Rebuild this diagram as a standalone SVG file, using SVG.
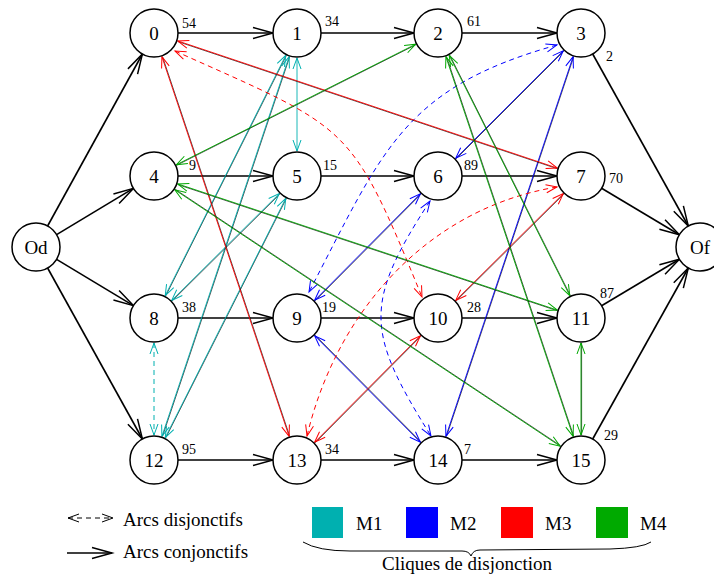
<svg xmlns="http://www.w3.org/2000/svg" width="714" height="578" viewBox="0 0 714 578">
<style>
  text { font-family: "Liberation Serif", "Times New Roman", serif; fill: #000; }
  .lbl { font-size: 19px; text-anchor: middle; }
  .w { font-size: 14px; }
  .leg { font-size: 19px; }
  circle.n { fill: #fff; stroke: #000; stroke-width: 1.5; }
  .cj { stroke: #000; stroke-width: 1.6; fill: none; marker-end: url(#ac); }
  .k { stroke: #000; stroke-width: 0.7; fill: none; }
  .c { stroke-width: 0.9; fill: none; }
  .d { stroke-width: 1; fill: none; stroke-dasharray: 5 4; }
  .m1 .c, .m1 .d { stroke: #00b0b0; marker-start: url(#a1); marker-end: url(#a1); }
  .m2 .c, .m2 .d { stroke: #0000ff; marker-start: url(#a2); marker-end: url(#a2); }
  .m3 .c, .m3 .d { stroke: #ff0000; marker-start: url(#a3); marker-end: url(#a3); }
  .m4 .c, .m4 .d { stroke: #00a800; marker-start: url(#a4); marker-end: url(#a4); }
</style>
<defs>
  <marker id="ac" markerUnits="userSpaceOnUse" markerWidth="24" markerHeight="14" viewBox="0 0 24 14" refX="21" refY="7" orient="auto">
    <path d="M1,1.5 L21,7 L1,12.5" fill="none" stroke="#000" stroke-width="1.5"/>
  </marker>
  <marker id="a1" markerUnits="userSpaceOnUse" markerWidth="14" markerHeight="10" viewBox="0 0 14 10" refX="12" refY="5" orient="auto-start-reverse">
    <path d="M1,1 L12,5 L1,9" fill="none" stroke="#00b0b0" stroke-width="1"/>
  </marker>
  <marker id="a2" markerUnits="userSpaceOnUse" markerWidth="14" markerHeight="10" viewBox="0 0 14 10" refX="12" refY="5" orient="auto-start-reverse">
    <path d="M1,1 L12,5 L1,9" fill="none" stroke="#0000ff" stroke-width="1"/>
  </marker>
  <marker id="a3" markerUnits="userSpaceOnUse" markerWidth="14" markerHeight="10" viewBox="0 0 14 10" refX="12" refY="5" orient="auto-start-reverse">
    <path d="M1,1 L12,5 L1,9" fill="none" stroke="#ff0000" stroke-width="1"/>
  </marker>
  <marker id="a4" markerUnits="userSpaceOnUse" markerWidth="14" markerHeight="10" viewBox="0 0 14 10" refX="12" refY="5" orient="auto-start-reverse">
    <path d="M1,1 L12,5 L1,9" fill="none" stroke="#00a800" stroke-width="1"/>
  </marker>
  <marker id="ak" markerUnits="userSpaceOnUse" markerWidth="14" markerHeight="10" viewBox="0 0 14 10" refX="12" refY="5" orient="auto-start-reverse">
    <path d="M1,1 L12,5 L1,9" fill="none" stroke="#000" stroke-width="1"/>
  </marker>
</defs>

<g id="connectors">
  <!-- conjunctive arcs -->
  <line class="cj" x1="47.6" y1="226" x2="142.4" y2="54"/>
  <line class="cj" x1="56.6" y1="234.6" x2="133.4" y2="188.4"/>
  <line class="cj" x1="56.6" y1="259.4" x2="133.4" y2="305.6"/>
  <line class="cj" x1="47.6" y1="268" x2="142.4" y2="439"/>
  <line class="cj" x1="178" y1="33" x2="273" y2="33"/>
  <line class="cj" x1="321" y1="33" x2="414" y2="33"/>
  <line class="cj" x1="462" y1="33" x2="557" y2="33"/>
  <line class="cj" x1="178" y1="176" x2="273" y2="176"/>
  <line class="cj" x1="321" y1="176" x2="414" y2="176"/>
  <line class="cj" x1="462" y1="176" x2="557" y2="176"/>
  <line class="cj" x1="178" y1="318" x2="273" y2="318"/>
  <line class="cj" x1="321" y1="318" x2="414" y2="318"/>
  <line class="cj" x1="462" y1="318" x2="557" y2="318"/>
  <line class="cj" x1="178" y1="460" x2="273" y2="460"/>
  <line class="cj" x1="321" y1="460" x2="414" y2="460"/>
  <line class="cj" x1="462" y1="460" x2="557" y2="460"/>
  <line class="cj" x1="592.7" y1="54" x2="688.3" y2="226"/>
  <line class="cj" x1="601.6" y1="188.3" x2="679.4" y2="234.7"/>
  <line class="cj" x1="601.6" y1="305.7" x2="679.4" y2="259.3"/>
  <line class="cj" x1="592.7" y1="439" x2="688.3" y2="268"/>

  <!-- M1 clique -->
  <g class="m1">
    <line class="c" x1="297" y1="58" x2="297" y2="151"/>
    <line class="k" transform="translate(0.6,0)" x1="285.8" y1="55.3" x2="165.2" y2="295.7"/>
    <line class="c" x1="285.8" y1="55.3" x2="165.2" y2="295.7"/>
    <line class="k" transform="translate(0.6,0)" x1="289.1" y1="56.7" x2="161.9" y2="436.3"/>
    <line class="c" x1="289.1" y1="56.7" x2="161.9" y2="436.3"/>
    <line class="k" transform="translate(0.5,0.5)" x1="279.3" y1="193.6" x2="171.7" y2="300.4"/>
    <line class="c" x1="279.3" y1="193.6" x2="171.7" y2="300.4"/>
    <line class="k" transform="translate(0.6,0)" x1="285.8" y1="198.3" x2="165.2" y2="437.7"/>
    <line class="c" x1="285.8" y1="198.3" x2="165.2" y2="437.7"/>
    <line class="d" x1="154" y1="343" x2="154" y2="435"/>
  </g>
  <!-- M2 clique -->
  <g class="m2">
    <line class="k" transform="translate(0.5,0.5)" x1="563.3" y1="50.7" x2="455.7" y2="158.3"/>
    <line class="c" x1="563.3" y1="50.7" x2="455.7" y2="158.3"/>
    <line class="k" transform="translate(0.6,0)" x1="573.1" y1="56.7" x2="445.9" y2="436.3"/>
    <line class="c" x1="573.1" y1="56.7" x2="445.9" y2="436.3"/>
    <line class="k" transform="translate(0.5,0.5)" x1="420.4" y1="193.7" x2="314.6" y2="300.3"/>
    <line class="c" x1="420.4" y1="193.7" x2="314.6" y2="300.3"/>
    <line class="k" transform="translate(0.5,-0.5)" x1="314.6" y1="335.7" x2="420.4" y2="442.3"/>
    <line class="c" x1="314.6" y1="335.7" x2="420.4" y2="442.3"/>
    <path class="d" d="M557,45 C403,88 383,150 309,292"/>
    <path class="d" d="M430,201 C363,304 366,332 431,436"/>
  </g>
  <!-- M3 clique -->
  <g class="m3">
    <line class="k" transform="translate(0,0.6)" x1="177.7" y1="40.9" x2="557.3" y2="168.1"/>
    <line class="c" x1="177.7" y1="40.9" x2="557.3" y2="168.1"/>
    <line class="k" transform="translate(0.6,0)" x1="161.9" y1="56.7" x2="289.1" y2="436.3"/>
    <line class="c" x1="161.9" y1="56.7" x2="289.1" y2="436.3"/>
    <line class="k" transform="translate(0.5,0.5)" x1="563.3" y1="193.6" x2="455.7" y2="300.4"/>
    <line class="c" x1="563.3" y1="193.6" x2="455.7" y2="300.4"/>
    <line class="k" transform="translate(0.5,0.5)" x1="420.4" y1="335.7" x2="314.6" y2="442.3"/>
    <line class="c" x1="420.4" y1="335.7" x2="314.6" y2="442.3"/>
    <path class="d" d="M175,51 C351,130 350,121 422,297"/>
    <path class="d" d="M557,187 C429,208 337,310 307,436"/>
  </g>
  <!-- M4 clique -->
  <g class="m4">
    <line class="k" transform="translate(0,0.6)" x1="415.7" y1="44.2" x2="176.3" y2="164.8"/>
    <line class="c" x1="415.7" y1="44.2" x2="176.3" y2="164.8"/>
    <line class="k" transform="translate(0.6,0)" x1="449.2" y1="55.3" x2="569.8" y2="295.7"/>
    <line class="c" x1="449.2" y1="55.3" x2="569.8" y2="295.7"/>
    <line class="k" transform="translate(0.6,0)" x1="445.9" y1="56.7" x2="573.1" y2="436.3"/>
    <line class="c" x1="445.9" y1="56.7" x2="573.1" y2="436.3"/>
    <line class="k" transform="translate(0,0.6)" x1="177.7" y1="183.9" x2="557.3" y2="310.1"/>
    <line class="c" x1="177.7" y1="183.9" x2="557.3" y2="310.1"/>
    <line class="k" transform="translate(0.3,-0.5)" x1="174.8" y1="189.8" x2="560.2" y2="446.2"/>
    <line class="c" x1="174.8" y1="189.8" x2="560.2" y2="446.2"/>
    <line class="k" transform="translate(0.6,0)" x1="581" y1="343" x2="581" y2="435"/>
    <line class="c" x1="581" y1="343" x2="581" y2="435"/>
  </g>
</g>

<g id="node-Od"><circle class="n" cx="36" cy="247" r="24"/><text class="lbl" x="36" y="254">Od</text></g>
<g id="node-Of"><circle class="n" cx="700" cy="247" r="24"/><text class="lbl" x="700" y="254">Of</text></g>
<g id="node-0"><circle class="n" cx="154" cy="33" r="24"/><text class="lbl" x="154" y="40">0</text><text class="w" x="182" y="28">54</text></g>
<g id="node-1"><circle class="n" cx="297" cy="33" r="24"/><text class="lbl" x="297" y="40">1</text><text class="w" x="325" y="26">34</text></g>
<g id="node-2"><circle class="n" cx="438" cy="33" r="24"/><text class="lbl" x="438" y="40">2</text><text class="w" x="467" y="26">61</text></g>
<g id="node-3"><circle class="n" cx="581" cy="33" r="24"/><text class="lbl" x="581" y="40">3</text><text class="w" x="606" y="61">2</text></g>
<g id="node-4"><circle class="n" cx="154" cy="176" r="24"/><text class="lbl" x="154" y="183">4</text><text class="w" x="189" y="170">9</text></g>
<g id="node-5"><circle class="n" cx="297" cy="176" r="24"/><text class="lbl" x="297" y="183">5</text><text class="w" x="323" y="170">15</text></g>
<g id="node-6"><circle class="n" cx="438" cy="176" r="24"/><text class="lbl" x="438" y="183">6</text><text class="w" x="464" y="170">89</text></g>
<g id="node-7"><circle class="n" cx="581" cy="176" r="24"/><text class="lbl" x="581" y="183">7</text><text class="w" x="609" y="183">70</text></g>
<g id="node-8"><circle class="n" cx="154" cy="318" r="24"/><text class="lbl" x="154" y="325">8</text><text class="w" x="182" y="312">38</text></g>
<g id="node-9"><circle class="n" cx="297" cy="318" r="24"/><text class="lbl" x="297" y="325">9</text><text class="w" x="322" y="312">19</text></g>
<g id="node-10"><circle class="n" cx="438" cy="318" r="24"/><text class="lbl" x="438" y="325">10</text><text class="w" x="467" y="312">28</text></g>
<g id="node-11"><circle class="n" cx="581" cy="318" r="24"/><text class="lbl" x="581" y="325">11</text><text class="w" x="600" y="298">87</text></g>
<g id="node-12"><circle class="n" cx="154" cy="460" r="24"/><text class="lbl" x="154" y="467">12</text><text class="w" x="182" y="454">95</text></g>
<g id="node-13"><circle class="n" cx="297" cy="460" r="24"/><text class="lbl" x="297" y="467">13</text><text class="w" x="325" y="454">34</text></g>
<g id="node-14"><circle class="n" cx="438" cy="460" r="24"/><text class="lbl" x="438" y="467">14</text><text class="w" x="464" y="454">7</text></g>
<g id="node-15"><circle class="n" cx="581" cy="460" r="24"/><text class="lbl" x="581" y="467">15</text><text class="w" x="604" y="440">29</text></g>

<g id="legend">
  <line x1="68" y1="518" x2="113" y2="518" stroke="#000" stroke-width="1" stroke-dasharray="5 4" marker-start="url(#ak)" marker-end="url(#ak)"/>
  <text class="leg" x="123" y="526">Arcs disjonctifs</text>
  <line class="cj" x1="67" y1="553" x2="112" y2="553"/>
  <text class="leg" x="123" y="558">Arcs conjonctifs</text>
  <rect x="312" y="507" width="31" height="31" fill="#00b0b0"/>
  <text class="leg" x="356" y="530">M1</text>
  <rect x="406" y="507" width="32" height="31" fill="#0000ff"/>
  <text class="leg" x="450" y="530">M2</text>
  <rect x="501" y="507" width="32" height="31" fill="#ff0000"/>
  <text class="leg" x="545" y="530">M3</text>
  <rect x="596" y="507" width="32" height="31" fill="#00aa00"/>
  <text class="leg" x="640" y="530">M4</text>
  <path d="M303,542 Q318,551 350,551 L462,551 Q469,551 471,556 Q473,550 480,550 L610,549 Q642,548 651,542" fill="none" stroke="#000" stroke-width="1"/>
  <text class="leg" x="382" y="570">Cliques de disjonction</text>
</g>
</svg>
